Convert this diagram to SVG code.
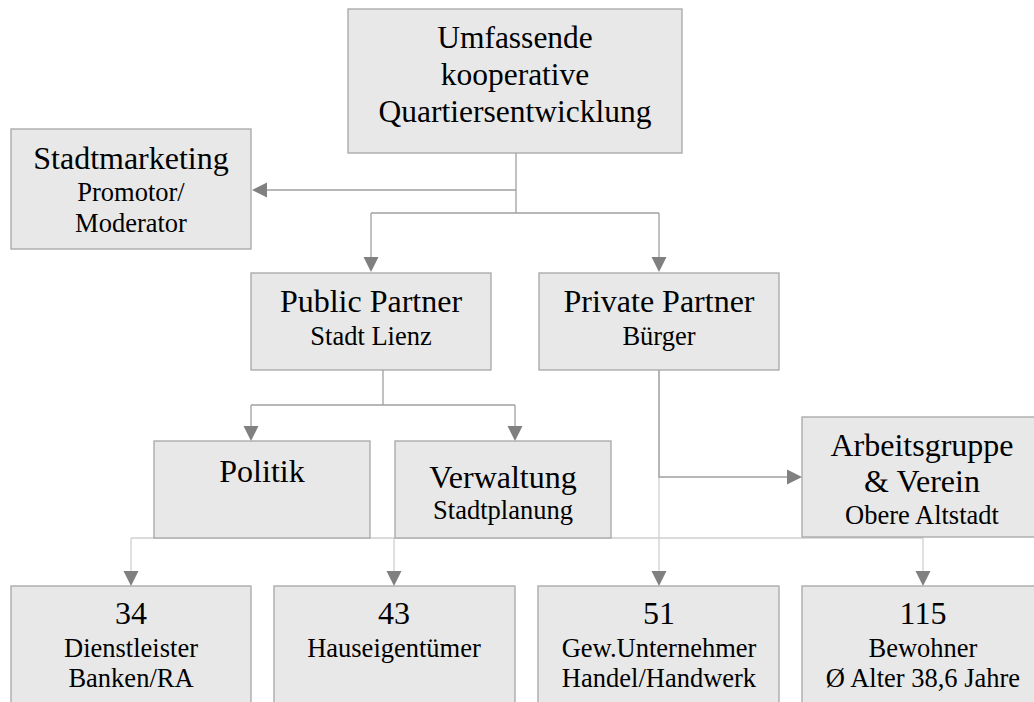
<svg xmlns="http://www.w3.org/2000/svg" width="1034" height="702" viewBox="0 0 1034 702">
<style>
.box{fill:#e8e8e8;stroke:#a6a6a6;stroke-width:1.3}
text{font-family:"Liberation Serif","Times New Roman",serif;fill:#000;text-anchor:middle}
.t{font-size:32px}
.tt{font-size:31.5px}
.s{font-size:26.5px}
.c{fill:none;stroke:#a0a0a0;stroke-width:1.3}
.cl{fill:none;stroke:#cfcfcf;stroke-width:1.3}
.ah{fill:#808080}
</style>
<rect width="1034" height="702" fill="#fff"/>
<g id="connectors">
<path class="cl" d="M131,538 H923 M131,538 V572 M394,538 V572 M923,538 V572 M659,370 V572"/>
<path class="c" d="M516,153 V213 M516,190 H266 M371,213 H659 M371,213 V258 M659,213 V258 M383,370 V405 M251,405 H515 M251,405 V427 M515,405 V427 M659,370 V477 H788"/>
<polygon class="ah" points="252,190 267,182.5 267,197.5"/>
<polygon class="ah" points="371,272 363.5,257 378.5,257"/>
<polygon class="ah" points="659,272 651.5,257 666.5,257"/>
<polygon class="ah" points="251,441 243.5,426 258.5,426"/>
<polygon class="ah" points="515,441 507.5,426 522.5,426"/>
<polygon class="ah" points="802,477 787,469.5 787,484.5"/>
<polygon class="ah" points="131,586 123.5,571 138.5,571"/>
<polygon class="ah" points="394,586 386.5,571 401.5,571"/>
<polygon class="ah" points="659,586 651.5,571 666.5,571"/>
<polygon class="ah" points="923,586 915.5,571 930.5,571"/>
</g>
<g id="top">
<rect class="box" x="348" y="9" width="334" height="144"/>
<text class="tt" x="515" y="48">Umfassende</text>
<text class="tt" x="515" y="85">kooperative</text>
<text class="tt" x="515" y="122">Quartiersentwicklung</text>
</g>
<g id="stadtmarketing">
<rect class="box" x="11" y="129" width="240" height="120"/>
<text class="t" x="131" y="169">Stadtmarketing</text>
<text class="s" x="131" y="201">Promotor/</text>
<text class="s" x="131" y="232">Moderator</text>
</g>
<g id="public">
<rect class="box" x="251" y="273" width="240" height="97"/>
<text class="t" x="371" y="312">Public Partner</text>
<text class="s" x="371" y="345">Stadt Lienz</text>
</g>
<g id="private">
<rect class="box" x="539" y="273" width="240" height="97"/>
<text class="t" x="659" y="312">Private Partner</text>
<text class="s" x="659" y="345">Bürger</text>
</g>
<g id="politik">
<rect class="box" x="154" y="441" width="216" height="97"/>
<text class="t" x="262" y="482">Politik</text>
</g>
<g id="verwaltung">
<rect class="box" x="395" y="441" width="216" height="97"/>
<text class="t" x="503" y="488">Verwaltung</text>
<text class="s" x="503" y="519">Stadtplanung</text>
</g>
<g id="arbeitsgruppe">
<rect class="box" x="802" y="417" width="241" height="120"/>
<text class="t" x="922" y="456">Arbeitsgruppe</text>
<text class="t" x="922" y="492">&amp; Verein</text>
<text class="s" x="922" y="524">Obere Altstadt</text>
</g>
<g id="n34">
<rect class="box" x="11" y="586" width="240" height="130"/>
<text class="t" x="131" y="624">34</text>
<text class="s" x="131" y="657">Dienstleister</text>
<text class="s" x="131" y="687">Banken/RA</text>
</g>
<g id="n43">
<rect class="box" x="274" y="586" width="241" height="130"/>
<text class="t" x="394" y="624">43</text>
<text class="s" x="394" y="657">Hauseigentümer</text>
</g>
<g id="n51">
<rect class="box" x="538" y="586" width="241" height="130"/>
<text class="t" x="659" y="624">51</text>
<text class="s" x="659" y="657">Gew.Unternehmer</text>
<text class="s" x="659" y="687">Handel/Handwerk</text>
</g>
<g id="n115">
<rect class="box" x="802" y="586" width="241" height="130"/>
<text class="t" x="923" y="624">115</text>
<text class="s" x="923" y="657">Bewohner</text>
<text class="s" x="923" y="687">Ø Alter 38,6 Jahre</text>
</g>
</svg>
